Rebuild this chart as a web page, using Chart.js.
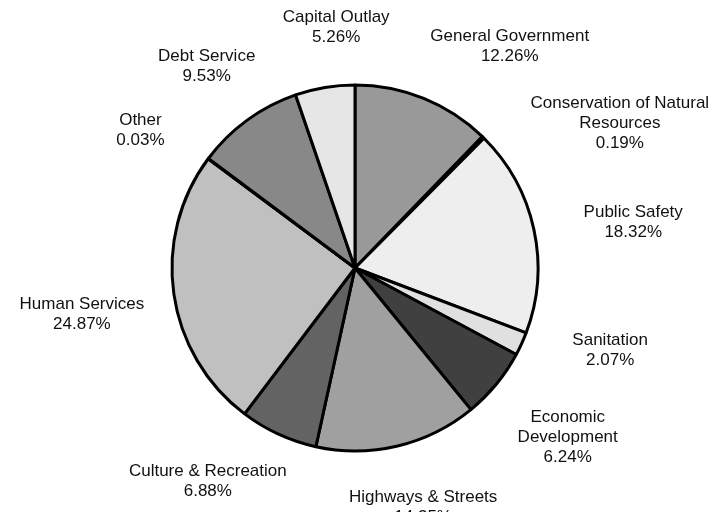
<!DOCTYPE html>
<html>
<head>
<meta charset="utf-8">
<script src="https://cdn.jsdelivr.net/npm/chart.js@4/dist/chart.umd.min.js"></script>
<style>
  html, body { margin: 0; padding: 0; background: #ffffff; }
  #wrap { width: 724px; height: 512px; position: relative; }
</style>
</head>
<body>
<div id="wrap"><canvas id="c" width="724" height="512"></canvas></div>
<script>
// ---- data ----
const categories = [
  "General Government",
  "Conservation of Natural Resources",
  "Public Safety",
  "Sanitation",
  "Economic Development",
  "Highways & Streets",
  "Culture & Recreation",
  "Human Services",
  "Other",
  "Debt Service",
  "Capital Outlay"
];
const labelLines = [
  ["General Government"],
  ["Conservation of Natural", "Resources"],
  ["Public Safety"],
  ["Sanitation"],
  ["Economic", "Development"],
  ["Highways & Streets"],
  ["Culture & Recreation"],
  ["Human Services"],
  ["Other"],
  ["Debt Service"],
  ["Capital Outlay"]
];
const percentValues = [12.26, 0.19, 18.32, 2.07, 6.24, 14.35, 6.88, 24.87, 0.03, 9.53, 5.26];

// ---- styles ----
const sliceColors = ["#999999", "#333333", "#eeeeee", "#e0e0e0", "#404040", "#a0a0a0",
                     "#636363", "#c0c0c0", "#555555", "#888888", "#e6e6e6"];
// label placement: angle nudge (deg) and gap beyond the pie edge (px)
const labelAngleNudge = [12.9, 16.8, 2.8, -6.7, -0.9, -2.4, 9.9, -1.5, -4.0, -0.3, 5.0];
const labelGap = [87, 119, 99, 85, 89, 66, 76, 94, 72, 67, 58];

const labelPlugin = {
  id: 'outerLabels',
  afterDraw(chart) {
    const ctx = chart.ctx;
    const meta = chart.getDatasetMeta(0);
    ctx.save();
    ctx.font = '17px "Liberation Sans", Arial, Helvetica, sans-serif';
    ctx.fillStyle = '#111111';
    ctx.textAlign = 'center';
    ctx.textBaseline = 'middle';
    const lineH = 20;
    meta.data.forEach((arc, i) => {
      const p = arc.getProps(['x', 'y', 'startAngle', 'endAngle', 'outerRadius'], true);
      const mid = (p.startAngle + p.endAngle) / 2 + labelAngleNudge[i] * Math.PI / 180;
      const d = p.outerRadius + labelGap[i];
      const cx = p.x + Math.cos(mid) * d;
      const cy = p.y + Math.sin(mid) * d;
      const lines = labelLines[i].concat([percentValues[i].toFixed(2) + '%']);
      const top = cy - (lines.length - 1) * lineH / 2;
      lines.forEach((t, k) => ctx.fillText(t, cx, top + k * lineH));
    });
    ctx.restore();
  }
};

new Chart(document.getElementById('c'), {
  type: 'pie',
  data: {
    labels: categories,
    datasets: [{
      data: percentValues,
      backgroundColor: sliceColors,
      borderColor: '#000000',
      borderWidth: 3
    }]
  },
  options: {
    responsive: false,
    animation: false,
    radius: 183,
    layout: { padding: { left: 0, right: 14, top: 24, bottom: 0 } },
    plugins: {
      legend: { display: false },
      tooltip: { enabled: false }
    }
  },
  plugins: [labelPlugin]
});
</script>
</body>
</html>
